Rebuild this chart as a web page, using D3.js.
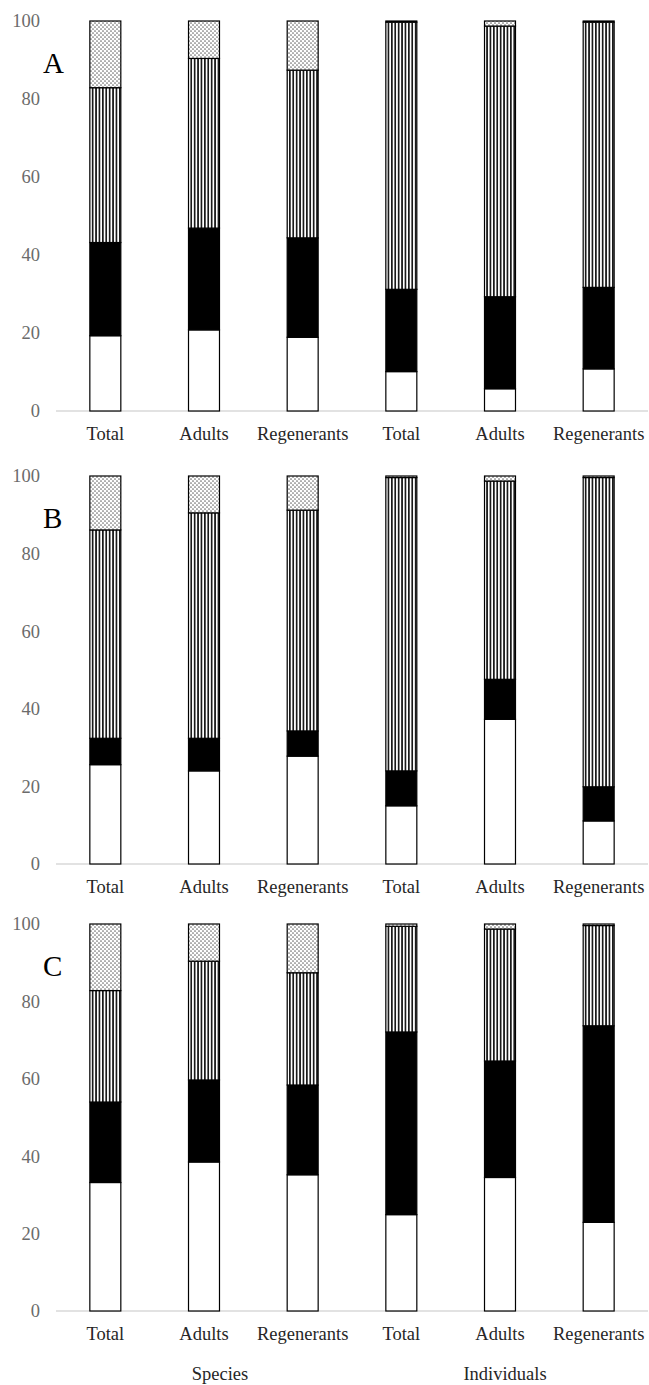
<!DOCTYPE html>
<html>
<head>
<meta charset="utf-8">
<script src="https://cdn.jsdelivr.net/npm/d3@7"></script>
<style>
  body { margin: 0; background: #fff; }
  svg text { font-family: "Liberation Serif", "Times New Roman", serif; }
</style>
</head>
<body>
<svg width="649" height="1385"></svg>
<script>
// categories: first three = Species, last three = Individuals
var catKeys = ["sTotal", "sAdults", "sRegen", "iTotal", "iAdults", "iRegen"];
var catLabels = ["Total", "Adults", "Regenerants", "Total", "Adults", "Regenerants"];
var groupLabels = ["Species", "Individuals"];
var yTicks = [0, 20, 40, 60, 80, 100];
var seriesKeys = ["white", "black", "striped", "dotted"];

// panel A
var aWhite   = [19.3, 20.8, 18.9, 10.1, 5.7, 10.8];
var aBlack   = [23.9, 26.1, 25.5, 21.1, 23.6, 20.9];
var aStriped = [39.7, 43.5, 43.0, 68.5, 69.4, 68.0];
var aDotted  = [17.1, 9.6, 12.6, 0.3, 1.3, 0.3];
// panel B
var bWhite   = [25.6, 24.0, 27.8, 15.0, 37.3, 11.1];
var bBlack   = [6.8, 8.4, 6.5, 9.0, 10.3, 8.8];
var bStriped = [53.7, 58.1, 56.9, 75.6, 51.1, 79.7];
var bDotted  = [13.9, 9.5, 8.8, 0.4, 1.3, 0.4];
// panel C
var cWhite   = [33.2, 38.5, 35.2, 24.9, 34.5, 22.9];
var cBlack   = [20.8, 21.2, 23.2, 47.2, 30.1, 50.8];
var cStriped = [28.8, 30.7, 29.0, 27.3, 34.1, 25.9];
var cDotted  = [17.2, 9.6, 12.6, 0.6, 1.3, 0.4];

var panels = [
  { letter: "A", top: 21,  bottom: 411,  series: [aWhite, aBlack, aStriped, aDotted] },
  { letter: "B", top: 476, bottom: 864,  series: [bWhite, bBlack, bStriped, bDotted] },
  { letter: "C", top: 924, bottom: 1311, series: [cWhite, cBlack, cStriped, cDotted] }
];

var svg = d3.select("svg");
var defs = svg.append("defs");

var stripes = defs.append("pattern")
    .attr("id", "stripes")
    .attr("patternUnits", "userSpaceOnUse")
    .attr("width", 3.4).attr("height", 10);
stripes.append("rect").attr("width", 3.4).attr("height", 10).attr("fill", "#fff");
stripes.append("rect").attr("x", 0).attr("width", 1.7).attr("height", 10).attr("fill", "#1a1a1a");

var dots = defs.append("pattern")
    .attr("id", "dots")
    .attr("patternUnits", "userSpaceOnUse")
    .attr("width", 4).attr("height", 4);
dots.append("rect").attr("width", 4).attr("height", 4).attr("fill", "#fff");
dots.append("circle").attr("cx", 1).attr("cy", 1).attr("r", 0.85).attr("fill", "#6e6e6e");
dots.append("circle").attr("cx", 3).attr("cy", 3).attr("r", 0.85).attr("fill", "#6e6e6e");

var fills = { white: "#fff", black: "#000", striped: "url(#stripes)", dotted: "url(#dots)" };

var x = d3.scaleBand()
    .domain(catKeys)
    .range([56, 648])
    .paddingInner(0.686)
    .paddingOuter(0.343);

var stack = d3.stack().keys(seriesKeys);

panels.forEach(function (p, pi) {
  var rows = catKeys.map(function (k, i) {
    var r = { key: k };
    seriesKeys.forEach(function (s, si) { r[s] = p.series[si][i]; });
    return r;
  });
  var y = d3.scaleLinear().domain([0, 100]).range([p.bottom, p.top]);
  var g = svg.append("g");

  // y axis labels only
  var yAxis = g.append("g")
      .attr("transform", "translate(45,0)")
      .call(d3.axisLeft(y).tickValues(yTicks).tickSize(0).tickPadding(5));
  yAxis.select(".domain").remove();
  yAxis.selectAll("text")
      .attr("fill", "#6b6b6b")
      .style("font-size", "18.5px")
      .style("font-family", "Liberation Serif");

  // baseline
  g.append("line")
      .attr("x1", x.range()[0]).attr("x2", x.range()[1])
      .attr("y1", y(0)).attr("y2", y(0))
      .attr("stroke", "#d9d9d9").attr("stroke-width", 1.3);

  // stacked bars
  g.selectAll(".layer")
    .data(stack(rows))
    .join("g")
      .attr("class", "layer")
      .attr("fill", function (d) { return fills[d.key]; })
    .selectAll("rect")
    .data(function (d) { return d; })
    .join("rect")
      .attr("x", function (d) { return x(d.data.key); })
      .attr("width", x.bandwidth())
      .attr("y", function (d) { return y(d[1]); })
      .attr("height", function (d) { return y(d[0]) - y(d[1]); })
      .attr("stroke", "#000")
      .attr("stroke-width", 1.2);

  // category labels
  g.selectAll(".cat")
    .data(catKeys)
    .join("text")
      .attr("class", "cat")
      .attr("x", function (d) { return x(d) + x.bandwidth() / 2; })
      .attr("y", y(0) + 29)
      .attr("text-anchor", "middle")
      .attr("fill", "#262626")
      .style("font-size", "18.5px")
      .text(function (d, i) { return catLabels[i]; });

  // panel letter
  g.append("text")
      .attr("x", 43)
      .attr("y", p.top + 52)
      .attr("fill", "#000")
      .style("font-size", "29px")
      .text(p.letter);

  if (pi === panels.length - 1) {
    var centers = [
      (x(catKeys[0]) + x(catKeys[2]) + x.bandwidth()) / 2 + 16,
      (x(catKeys[3]) + x(catKeys[5]) + x.bandwidth()) / 2 + 5
    ];
    g.selectAll(".grp")
      .data(groupLabels)
      .join("text")
        .attr("class", "grp")
        .attr("x", function (d, i) { return centers[i]; })
        .attr("y", y(0) + 69)
        .attr("text-anchor", "middle")
        .attr("fill", "#262626")
        .style("font-size", "18.5px")
        .text(function (d) { return d; });
  }
});
</script>
</body>
</html>
